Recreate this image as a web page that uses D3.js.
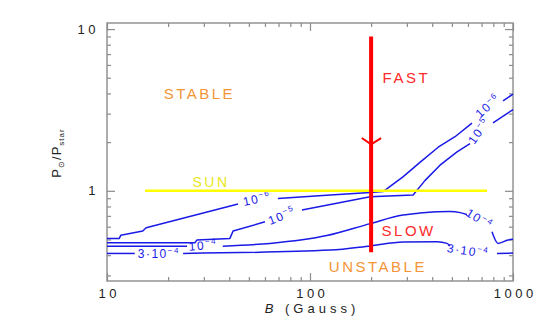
<!DOCTYPE html>
<html><head><meta charset="utf-8">
<script src="https://cdn.jsdelivr.net/npm/d3@7"></script>
<style>
html,body{margin:0;padding:0;background:#fff;}
svg{display:block;font-family:"Liberation Sans",Arial,sans-serif;}
</style></head>
<body><svg id="c" width="545" height="327"></svg>
<script>
// ---- data ----
const xDomain = [10, 1000];
const yDomain = [0.277, 10.9];
const xMajor = [10, 100, 1000];
const xMinor = [20,30,40,50,60,70,80,90,200,300,400,500,600,700,800,900];
const yMajor = [1, 10];
const yMinor = [0.3,0.4,0.5,0.6,0.7,0.8,0.9,2,3,4,5,6,7,8,9];

// contour segments (split at label gaps): [B, P]
const c1e6 = [
  [[10,0.508],[11.5,0.508],[11.7,0.532],[15.0,0.564],[15.6,0.591],[44.2,0.83]],
  [[69.5,0.895],[126,0.941],[198,0.975],[229,0.989],[287,1.22],[348,1.50],[428,1.86],[518,2.16],[628,2.62]],
  [[893,3.60],[1000,3.96]]
];
const c1e5 = [
  [[10,0.477],[27.1,0.477],[27.7,0.496],[40.3,0.508],[41.8,0.564],[60.0,0.643]],
  [[91.3,0.760],[198,0.918],[322,0.941],[369,1.16],[437,1.44],[530,1.74],[614,1.96]],
  [[797,2.63],[1000,3.18]]
];
const c1e4 = [
  [[10,0.455],[24.8,0.455]],
  [[37.2,0.455],[63.5,0.473],[121,0.529],[198,0.627],[287,0.708],[348,0.728],[423,0.741],[490,0.744],[549,0.733],[593,0.713]],
  [[788,0.558],[844,0.473],[945,0.496],[1000,0.501]]
];
const c3e4 = [
  [[10,0.410],[13.7,0.410]],
  [[23.7,0.410],[126,0.430],[198,0.456],[287,0.482],[423,0.484],[473,0.473],[490,0.456]],
  [[834,0.410],[1000,0.412]]
];
const sharpSets = [c1e6, c1e5];
const smoothSets = [c1e4, c3e4];

// contour labels: [B, P, prefix, exponent, angle]
const contourLabels = [
  [54.8, 0.889, "10", "−6", -12],
  [72.8, 0.698, "10", "−5", -22],
  [29.7, 0.458, "10", "−4", -4],
  [18.0, 0.409, "3·10", "−4", 0],
  [753, 3.34, "10", "−6", -42],
  [681, 2.34, "10", "−5", -55],
  [681, 0.668, "10", "−4", 32],
  [600, 0.424, "3·10", "−4", 8]
];

const sunLine = [[15.4, 1], [745, 1]];
const pathLine = [[200, 9.0], [200, 0.417]];
const arrowHead = [[180, 2.12], [200, 1.94], [224, 2.12]];

// region labels: [text, B, P, colour, size]
const regionLabels = [
  ["STABLE", 28.1, 3.99, "#f39436", 15],
  ["FAST", 294, 5.0, "#ff2a2a", 15],
  ["SLOW", 302, 0.568, "#ff2a2a", 15],
  ["UNSTABLE", 213, 0.338, "#f39436", 15],
  ["SUN", 32.1, 1.14, "#e8e820", 14]
];

// ---- drawing ----
const svg = d3.select("#c");
const L = 107, R = 513, T = 23, B = 281;
const x = d3.scaleLog().domain(xDomain).range([L, R]);
const y = d3.scaleLog().domain(yDomain).range([B, T]);
const axisCol = "#8c8c8c";

function styleAxis(g){
  g.select(".domain").remove();
  g.selectAll(".tick line").attr("stroke", axisCol).attr("stroke-width", 1.2);
  g.selectAll(".tick text").attr("fill", "#222").style("font-size","13px")
    .style("letter-spacing","3.5px").style("font-family","'Liberation Sans',Arial,sans-serif");
}
// bottom
svg.append("g").attr("transform",`translate(0,${B})`)
  .call(d3.axisBottom(x).tickValues(xMajor).tickSizeInner(-8).tickSizeOuter(0).tickPadding(8).tickFormat(d=>String(d)))
  .call(styleAxis)
  .call(g=>g.selectAll(".tick text").attr("dx","1.75"));
svg.append("g").attr("transform",`translate(0,${B})`)
  .call(d3.axisBottom(x).tickValues(xMinor).tickSize(-4).tickFormat(""))
  .call(styleAxis);
// top
svg.append("g").attr("transform",`translate(0,${T})`)
  .call(d3.axisTop(x).tickValues(xMajor).tickSize(-8).tickFormat(""))
  .call(styleAxis);
svg.append("g").attr("transform",`translate(0,${T})`)
  .call(d3.axisTop(x).tickValues(xMinor).tickSize(-4).tickFormat(""))
  .call(styleAxis);
// left
svg.append("g").attr("transform",`translate(${L},0)`)
  .call(d3.axisLeft(y).tickValues(yMajor).tickSizeInner(-8).tickSizeOuter(0).tickPadding(8).tickFormat(d=>String(d)))
  .call(styleAxis);
svg.append("g").attr("transform",`translate(${L},0)`)
  .call(d3.axisLeft(y).tickValues(yMinor).tickSize(-4).tickFormat(""))
  .call(styleAxis);
// right
svg.append("g").attr("transform",`translate(${R},0)`)
  .call(d3.axisRight(y).tickValues(yMajor).tickSize(-8).tickFormat(""))
  .call(styleAxis);
svg.append("g").attr("transform",`translate(${R},0)`)
  .call(d3.axisRight(y).tickValues(yMinor).tickSize(-4).tickFormat(""))
  .call(styleAxis);
// frame
svg.append("rect").attr("x",L).attr("y",T).attr("width",R-L).attr("height",B-T)
  .attr("fill","none").attr("stroke",axisCol).attr("stroke-width",1.4);

const line = d3.line().x(d=>x(d[0])).y(d=>y(d[1]));
const smooth = d3.line().x(d=>x(d[0])).y(d=>y(d[1])).curve(d3.curveMonotoneX);

// contours
const blue = "#1a1ae6";
function drawSet(set, gen){
  set.forEach(seg=>{
    svg.append("path").attr("d", gen(seg)).attr("fill","none")
      .attr("stroke", blue).attr("stroke-width", 1.5).attr("stroke-linejoin","round");
  });
}
sharpSets.forEach(s=>drawSet(s, line));
smoothSets.forEach(s=>drawSet(s, smooth));

contourLabels.forEach(([b,p,pre,ex,ang])=>{
  const t = svg.append("text")
    .attr("transform",`translate(${x(b)},${y(p)}) rotate(${ang})`)
    .attr("text-anchor","middle").attr("dy","4")
    .attr("fill", blue).style("font-size","12px").style("letter-spacing","1.5px");
  t.append("tspan").text(pre);
  t.append("tspan").attr("dy","-5").style("font-size","8px").text(ex);
});

// sun line
svg.append("path").attr("d", line(sunLine)).attr("stroke","#ffff00").attr("stroke-width",2.6).attr("fill","none");
// evolution path
svg.append("path").attr("d", line(pathLine)).attr("stroke","#ff0000").attr("stroke-width",4).attr("fill","none");
svg.append("path").attr("d", line(arrowHead)).attr("stroke","#ff0000").attr("stroke-width",2).attr("fill","none");

// region labels
regionLabels.forEach(([txt,b,p,col,sz])=>{
  svg.append("text").attr("x", x(b)+1.25).attr("y", y(p)).attr("dy","0.36em")
    .attr("text-anchor","middle").attr("fill", col)
    .style("font-size", sz+"px").style("letter-spacing","2.5px").text(txt);
});

// axis titles
const xt = svg.append("text").attr("x", (L+R)/2+2).attr("y", 313).attr("text-anchor","middle")
  .attr("fill","#222").style("font-size","13px").style("letter-spacing","4px");
xt.append("tspan").style("font-style","italic").text("B");
xt.append("tspan").text(" (Gauss)");

const yt = svg.append("text").attr("transform","translate(61,153) rotate(-90)").attr("text-anchor","middle")
  .attr("fill","#222").style("font-size","13px").style("letter-spacing","1px");
yt.append("tspan").text("P");
yt.append("tspan").attr("dy","3").style("font-size","8px").text("⊙");
yt.append("tspan").attr("dy","-3").text("/P");
yt.append("tspan").attr("dy","3").style("font-size","8px").text("star");
</script></body></html>
